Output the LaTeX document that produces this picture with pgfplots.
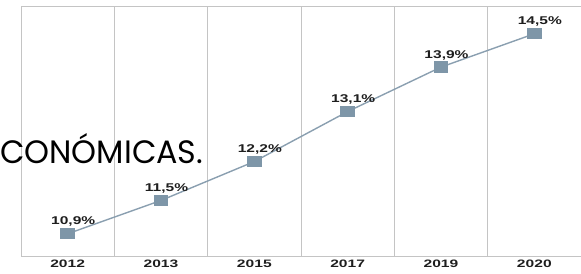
\documentclass[border=0pt]{standalone}
\usepackage{pgfplots}
\pgfplotsset{compat=1.18}
\usepackage{fontspec}
\setmainfont{Liberation Sans}
\newfontfamily\comic{Poppins}
\definecolor{gridc}{HTML}{C4C4C4}
\definecolor{linec}{HTML}{8A9FB0}
\definecolor{markc}{HTML}{7E96A8}
\definecolor{txt}{HTML}{1E1E1E}
\pgfplotstableread{
x y lab
0 10.9 10,9\%
1 11.5 11,5\%
2 12.2 12,2\%
3 13.1 13,1\%
4 13.9 13,9\%
5 14.5 14,5\%
}\datatab
\begin{document}
\begin{tikzpicture}
\begin{axis}[
  name=ax,
  scale only axis,
  width=560bp, height=250bp,
  xmin=-0.5, xmax=5.5,
  ymin=10.5, ymax=15.0,
  xtick={0,1,2,3,4,5},
  xticklabels={2012,2013,2015,2017,2019,2020},
  minor xtick={0.5,1.5,2.5,3.5,4.5},
  xminorgrids=true,
  minor grid style={gridc, line width=0.9bp},
  ytick=\empty,
  major tick length=0pt, minor tick length=0pt,
  axis line style={gridc, line width=0.9bp},
  xticklabel style={font=\bfseries\fontsize{10.8}{12}\selectfont, text=txt, xscale=1.45, yshift=-0.5bp},
  clip=false,
]
\addplot[color=linec, line width=1.4bp, mark=square*, mark size=5bp,
  mark options={xscale=1.3, fill=markc, draw=markc},
  nodes near coords, point meta=explicit symbolic,
  nodes near coords style={font=\bfseries\fontsize{11.3}{12}\selectfont, text=txt, xscale=1.38, anchor=center, yshift=12bp, xshift=4bp}]
  table[x=x, y=y, meta=lab] {\datatab};
\node[anchor=base west, inner sep=0] at ([xshift=-21bp]rel axis cs:0,0.372) {\resizebox{203bp}{30bp}{\comic CONÓMICAS.}};
\end{axis}
\pgfresetboundingbox
\path[use as bounding box] ([xshift=-21bp,yshift=-18bp]ax.south west) rectangle ([yshift=6bp]ax.north east);
\end{tikzpicture}
\end{document}
